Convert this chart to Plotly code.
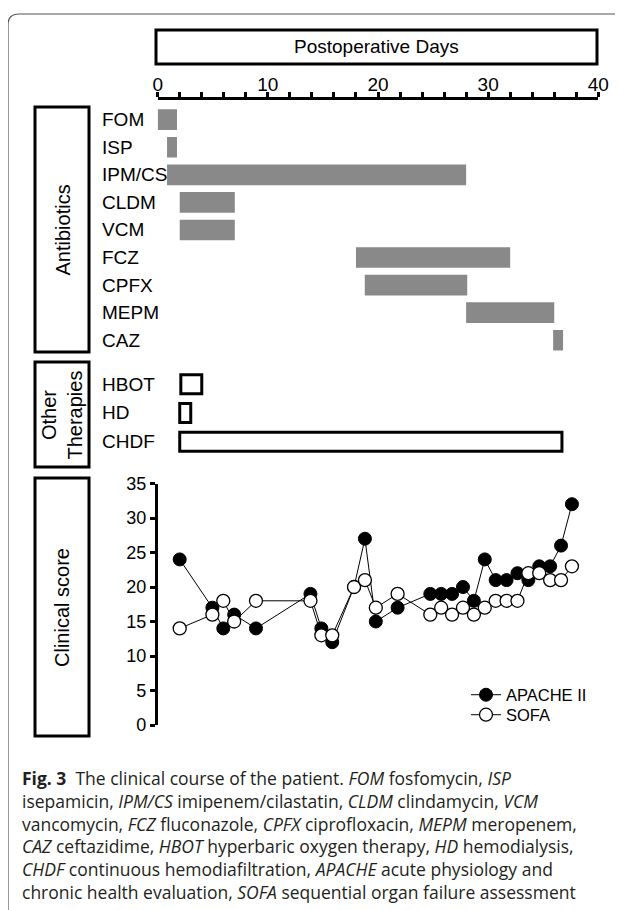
import plotly.graph_objects as go

W, H = 623, 910

# ---------------- data ----------------
antibiotics = ["FOM", "ISP", "IPM/CS", "CLDM", "VCM", "FCZ", "CPFX", "MEPM", "CAZ"]
anti_start = [0, 0.85, 0.85, 2, 2, 18, 18.8, 28, 35.9]
anti_end = [1.75, 1.75, 28, 7, 7, 32, 28.1, 36, 36.8]

therapies = ["HBOT", "HD", "CHDF"]
ther_start = [2.1, 2.0, 2.0]
ther_end = [4.0, 3.0, 36.7]

score_days = [2, 5, 6, 7, 9, 14, 15, 16, 18, 19, 20, 22, 25, 26, 27, 28, 29, 30, 31,
              32, 33, 34, 35, 36, 37, 38]
apache = [24, 17, 14, 16, 14, 19, 14, 12, 20, 27, 15, 17, 19, 19, 19, 20, 18, 24, 21,
          21, 22, 21, 23, 23, 26, 32]
sofa = [14, 16, 18, 15, 18, 18, 13, 13, 20, 21, 17, 19, 16, 17, 16, 17, 16, 17, 18,
        18, 18, 22, 22, 21, 21, 23]

day_ticks = [0, 10, 20, 30, 40]
score_ticks = [0, 5, 10, 15, 20, 25, 30, 35]

caption_lines = [
    "<b>Fig. 3</b>&nbsp; The clinical course of the patient. <i>FOM</i> fosfomycin, <i>ISP</i>",
    "isepamicin, <i>IPM/CS</i> imipenem/cilastatin, <i>CLDM</i> clindamycin, <i>VCM</i>",
    "vancomycin, <i>FCZ</i> fluconazole, <i>CPFX</i> ciprofloxacin, <i>MEPM</i> meropenem,",
    "<i>CAZ</i> ceftazidime, <i>HBOT</i> hyperbaric oxygen therapy, <i>HD</i> hemodialysis,",
    "<i>CHDF</i> continuous hemodiafiltration, <i>APACHE</i> acute physiology and",
    "chronic health evaluation, <i>SOFA</i> sequential organ failure assessment",
]

# the page body adds an 8 px offset; positions below are screen pixels
OFF = 8


def px(x):
    return (x - OFF) / W


def py(y):
    return 1 - (y - OFF) / H


AX_L, AX_R = 157.7, 598.3
FONT = "Liberation Sans"
CAP_FONT = "Open Sans"
BLACK = "black"

fig = go.Figure()

# antibiotic bars
fig.add_trace(go.Bar(
    y=antibiotics, base=anti_start,
    x=[e - s for s, e in zip(anti_start, anti_end)],
    orientation="h", width=0.75,
    marker=dict(color="#898989", line=dict(width=0)),
    xaxis="x", yaxis="y", showlegend=False, hoverinfo="skip"))

# other therapies
fig.add_trace(go.Bar(
    y=therapies, base=ther_start,
    x=[e - s for s, e in zip(ther_start, ther_end)],
    orientation="h", width=0.66,
    marker=dict(color="white", line=dict(color=BLACK, width=3)),
    xaxis="x2", yaxis="y2", showlegend=False, hoverinfo="skip"))

# clinical scores
fig.add_trace(go.Scatter(
    x=score_days, y=apache, name="APACHE II", mode="lines+markers",
    line=dict(color=BLACK, width=1),
    marker=dict(color=BLACK, size=13, line=dict(color=BLACK, width=1)),
    xaxis="x3", yaxis="y3", cliponaxis=False, legend="legend"))
fig.add_trace(go.Scatter(
    x=score_days, y=sofa, name="SOFA", mode="lines+markers",
    line=dict(color=BLACK, width=1),
    marker=dict(color="white", size=13, line=dict(color=BLACK, width=1.3)),
    xaxis="x3", yaxis="y3", cliponaxis=False, legend="legend2"))

dom_x = [px(AX_L), px(AX_R)]

shapes = []
# outer frame
shapes.append(dict(type="path", xref="paper", yref="paper",
                   path=f"M {px(8)},{py(930)} L {px(8)},{py(25)} Q {px(8)},{py(14)} {px(19)},{py(14)} L {px(640)},{py(14)}",
                   line=dict(color="#555555", width=1.2)))
# title box
shapes.append(dict(type="rect", xref="paper", yref="paper",
                   x0=px(156), x1=px(597), y0=py(64), y1=py(30),
                   line=dict(color=BLACK, width=3)))
# left label boxes
for (y0, y1) in [(107, 352), (362, 467), (478, 736)]:
    shapes.append(dict(type="rect", xref="paper", yref="paper",
                       x0=px(35), x1=px(89), y0=py(y1), y1=py(y0),
                       line=dict(color=BLACK, width=3)))

annotations = []
annotations.append(dict(text="Postoperative Days", x=px(376.5), y=py(47), xref="paper", yref="paper",
                        xanchor="center", yanchor="middle",
                        showarrow=False, font=dict(size=19, family=FONT, color=BLACK)))
for txt, yc in [("Antibiotics", 229.5), ("Other<br>Therapies", 414.5), ("Clinical score", 607)]:
    annotations.append(dict(text=txt, x=px(62), y=py(yc), xref="paper", yref="paper",
                            xanchor="center", yanchor="middle",
                            showarrow=False, textangle=-90,
                            font=dict(size=20, family=FONT, color=BLACK)))
for name in antibiotics:
    annotations.append(dict(text=name, x=px(100), y=name, xref="paper", yref="y",
                            xanchor="left", yanchor="middle", showarrow=False,
                            font=dict(size=19, family=FONT, color=BLACK)))
for name in therapies:
    annotations.append(dict(text=name, x=px(100), y=name, xref="paper", yref="y2",
                            xanchor="left", yanchor="middle", showarrow=False,
                            font=dict(size=19, family=FONT, color=BLACK)))
# caption as one multi-line text block
annotations.append(dict(text="<br>".join(caption_lines), x=px(20), y=py(835), xref="paper", yref="paper",
                        xanchor="left", yanchor="middle", align="left", showarrow=False,
                        font=dict(size=17.5, family=CAP_FONT, color="#231f20")))

leg_common = dict(xanchor="left", yanchor="top",
                  font=dict(size=16.5, family=FONT, color=BLACK),
                  bgcolor="rgba(0,0,0,0)", itemwidth=30, tracegroupgap=0)

fig.update_layout(
    width=W, height=H, autosize=False,
    margin=dict(l=0, r=0, t=0, b=0, pad=0),
    paper_bgcolor="white", plot_bgcolor="white",
    showlegend=True,
    legend=dict(x=px(466), y=py(677.5), **leg_common),
    legend2=dict(x=px(466), y=py(697.5), **leg_common),
    xaxis=dict(domain=dom_x, range=[0, 40], side="top", anchor="y",
               showline=True, linecolor=BLACK, linewidth=2.5,
               ticks="outside", ticklen=5, tickwidth=2.5, tickcolor=BLACK,
               tickvals=day_ticks, showgrid=False, zeroline=False, automargin=False,
               ticklabelstandoff=-6,
               tickfont=dict(size=19, family=FONT, color=BLACK),
               minor=dict(dtick=2, tick0=0, ticks="outside", ticklen=5, tickwidth=2.5,
                          tickcolor=BLACK, showgrid=False)),
    yaxis=dict(domain=[py(354), py(100)], type="category", range=[8.5, -0.715],
               visible=False, anchor="x", showgrid=False, automargin=False),
    xaxis2=dict(domain=dom_x, range=[0, 40], visible=False, anchor="y2", automargin=False),
    yaxis2=dict(domain=[py(456), py(370)], type="category", range=[2.5, -0.5],
                visible=False, anchor="x2", automargin=False),
    xaxis3=dict(domain=dom_x, range=[-0.02, 40.42], visible=False, anchor="y3", automargin=False),
    yaxis3=dict(domain=[py(725), py(483.5)], range=[0, 35], anchor="x3",
                showline=True, linecolor=BLACK, linewidth=2.5,
                ticks="outside", ticklen=5, tickwidth=2.5, tickcolor=BLACK,
                tickvals=score_ticks, showgrid=False, zeroline=False, automargin=False,
                tickfont=dict(size=18, family=FONT, color=BLACK)),
    shapes=shapes, annotations=annotations,
)

fig.write_html("out.html")
